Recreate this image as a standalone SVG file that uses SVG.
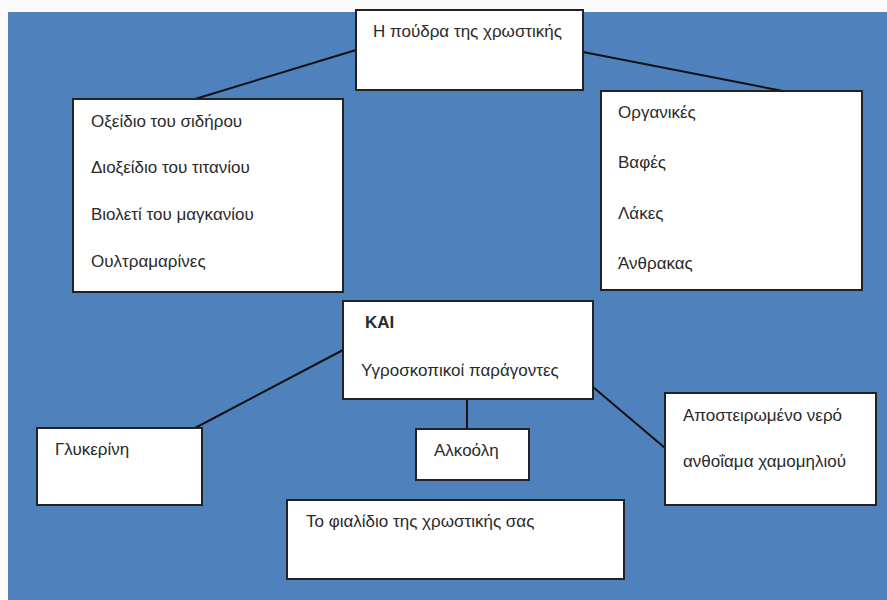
<svg xmlns="http://www.w3.org/2000/svg" width="887" height="600" viewBox="0 0 887 600">
<style>
.box{fill:#fff;stroke:#222;stroke-width:2}
.t{font-family:"Liberation Sans","Open Sans",sans-serif;font-size:17px;fill:#2a2a2a}
.b{font-weight:bold}
.c{stroke:#111;stroke-width:2;fill:none}
</style>
<rect x="0" y="0" width="887" height="600" fill="#fafafa"/>
<rect x="8" y="12" width="879" height="588" fill="#4f81bd"/>
<g id="connectors">
<line class="c" x1="356" y1="50" x2="195" y2="99"/>
<line class="c" x1="583" y1="52" x2="783" y2="91"/>
<line class="c" x1="343" y1="350" x2="195" y2="428"/>
<line class="c" x1="467" y1="399" x2="467" y2="429"/>
<line class="c" x1="593" y1="387" x2="665" y2="448"/>
</g>
<g id="top">
<rect class="box" x="356" y="10" width="227" height="80"/>
<text class="t" x="373" y="37">Η πούδρα της χρωστικής</text>
</g>
<g id="inorganic">
<rect class="box" x="73" y="99" width="270" height="193"/>
<text class="t" x="91" y="127">Οξείδιο του σιδήρου</text>
<text class="t" x="91" y="173">Διοξείδιο του τιτανίου</text>
<text class="t" x="91" y="220">Βιολετί του μαγκανίου</text>
<text class="t" x="91" y="267">Ουλτραμαρίνες</text>
</g>
<g id="organic">
<rect class="box" x="601" y="91" width="261" height="199"/>
<text class="t" x="618" y="118">Οργανικές</text>
<text class="t" x="618" y="168">Βαφές</text>
<text class="t" x="618" y="219">Λάκες</text>
<text class="t" x="618" y="269">Άνθρακας</text>
</g>
<g id="middle">
<rect class="box" x="343" y="301" width="250" height="98"/>
<text class="t b" x="365" y="328">ΚΑΙ</text>
<text class="t" x="361" y="376">Υγροσκοπικοί παράγοντες</text>
</g>
<g id="glycerine">
<rect class="box" x="37" y="428" width="165" height="77"/>
<text class="t" x="55" y="455">Γλυκερίνη</text>
</g>
<g id="alcohol">
<rect class="box" x="416" y="429" width="113" height="51"/>
<text class="t" x="434" y="456">Αλκοόλη</text>
</g>
<g id="water">
<rect class="box" x="665" y="393" width="211" height="112"/>
<text class="t" x="683" y="421">Αποστειρωμένο νερό</text>
<text class="t" x="683" y="467">ανθοΐαμα χαμομηλιού</text>
</g>
<g id="bottle">
<rect class="box" x="287" y="500" width="337" height="79"/>
<text class="t" x="306" y="527">Το φιαλίδιο της χρωστικής σας</text>
</g>
</svg>
